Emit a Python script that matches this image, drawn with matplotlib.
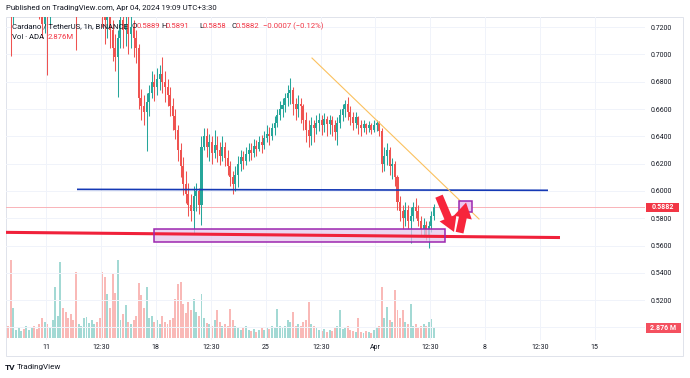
import matplotlib
matplotlib.use('Agg')
import matplotlib.pyplot as plt
import matplotlib.dates as mdates
import matplotlib.transforms as mtrans
from matplotlib.patches import Rectangle, FancyArrowPatch
import numpy as np
import pandas as pd

plt.rcParams['font.family'] = ['Roboto', 'DejaVu Sans']

# ---------------- data (4h candles, ADA/USDT) ----------------
start = '2024-03-08 12:00'
first_open = 0.748
closes = [0.740, 0.728, 0.742, 0.748, 0.752, 0.756, 0.753, 0.758, 0.762, 0.765,
          0.760, 0.750, 0.735, 0.722, 0.735, 0.728, 0.742, 0.752, 0.760, 0.768,
          0.770, 0.765, 0.758, 0.750, 0.745, 0.740, 0.735, 0.748, 0.758, 0.765,
          0.775, 0.782, 0.785, 0.790, 0.782, 0.768, 0.740, 0.725, 0.732, 0.718,
          0.705, 0.698, 0.712, 0.725, 0.718, 0.722, 0.715, 0.720, 0.712, 0.705,
          0.668, 0.662, 0.658, 0.665, 0.672, 0.680, 0.676, 0.682, 0.686, 0.680,
          0.676, 0.670, 0.662, 0.655, 0.645, 0.630, 0.618, 0.605, 0.598, 0.590,
          0.585, 0.596, 0.600, 0.590, 0.632, 0.640, 0.632, 0.636, 0.628, 0.634,
          0.630, 0.626, 0.632, 0.624, 0.618, 0.610, 0.605, 0.612, 0.620, 0.625,
          0.622, 0.627, 0.630, 0.628, 0.633, 0.631, 0.636, 0.634, 0.639, 0.642,
          0.640, 0.646, 0.650, 0.656, 0.660, 0.663, 0.668, 0.672, 0.674, 0.664,
          0.660, 0.664, 0.662, 0.652, 0.645, 0.640, 0.648, 0.646, 0.650, 0.652,
          0.648, 0.653, 0.649, 0.652, 0.648, 0.643, 0.650, 0.656, 0.660, 0.664,
          0.658, 0.654, 0.650, 0.654, 0.648, 0.646, 0.649, 0.646, 0.648, 0.645,
          0.648, 0.650, 0.644, 0.620, 0.626, 0.630, 0.618, 0.620, 0.610, 0.592,
          0.585, 0.580, 0.586, 0.578, 0.582, 0.588, 0.585, 0.578, 0.572, 0.575,
          0.568, 0.574, 0.582, 0.5882]
highs = [0.752, 0.744, 0.748, 0.753, 0.758, 0.762, 0.760, 0.764, 0.768, 0.772,
         0.768, 0.762, 0.752, 0.738, 0.742, 0.740, 0.748, 0.758, 0.768, 0.775,
         0.778, 0.774, 0.768, 0.760, 0.755, 0.750, 0.745, 0.752, 0.762, 0.772,
         0.780, 0.790, 0.795, 0.800, 0.795, 0.786, 0.770, 0.745, 0.745, 0.735,
         0.725, 0.715, 0.718, 0.735, 0.735, 0.735, 0.730, 0.728, 0.725, 0.718,
         0.708, 0.675, 0.670, 0.672, 0.678, 0.688, 0.686, 0.690, 0.692, 0.698,
         0.688, 0.682, 0.676, 0.668, 0.660, 0.648, 0.635, 0.625, 0.615, 0.606,
         0.598, 0.604, 0.606, 0.602, 0.640, 0.646, 0.646, 0.642, 0.640, 0.645,
         0.640, 0.636, 0.640, 0.636, 0.630, 0.622, 0.615, 0.618, 0.626, 0.630,
         0.629, 0.632, 0.635, 0.635, 0.638, 0.637, 0.640, 0.641, 0.644, 0.648,
         0.647, 0.650, 0.655, 0.660, 0.666, 0.668, 0.672, 0.678, 0.683, 0.676,
         0.668, 0.670, 0.668, 0.664, 0.658, 0.652, 0.654, 0.652, 0.656, 0.657,
         0.656, 0.657, 0.655, 0.656, 0.655, 0.652, 0.654, 0.660, 0.664, 0.667,
         0.669, 0.662, 0.658, 0.658, 0.655, 0.652, 0.652, 0.650, 0.651, 0.650,
         0.652, 0.652, 0.651, 0.646, 0.632, 0.635, 0.632, 0.624, 0.622, 0.612,
         0.596, 0.590, 0.592, 0.590, 0.588, 0.592, 0.595, 0.590, 0.582, 0.580,
         0.578, 0.578, 0.585, 0.5905]
lows = [0.735, 0.699, 0.722, 0.738, 0.745, 0.748, 0.747, 0.750, 0.754, 0.758,
        0.752, 0.742, 0.726, 0.712, 0.716, 0.685, 0.722, 0.738, 0.748, 0.756,
        0.762, 0.758, 0.750, 0.742, 0.735, 0.730, 0.703, 0.732, 0.745, 0.755,
        0.762, 0.770, 0.776, 0.780, 0.772, 0.755, 0.720, 0.708, 0.712, 0.705,
        0.695, 0.688, 0.669, 0.705, 0.705, 0.706, 0.700, 0.705, 0.698, 0.694,
        0.660, 0.652, 0.648, 0.629, 0.655, 0.668, 0.666, 0.670, 0.674, 0.672,
        0.665, 0.662, 0.655, 0.645, 0.638, 0.622, 0.610, 0.597, 0.591, 0.582,
        0.578, 0.569, 0.585, 0.583, 0.575, 0.630, 0.625, 0.622, 0.620, 0.624,
        0.621, 0.619, 0.622, 0.618, 0.612, 0.604, 0.598, 0.600, 0.603, 0.615,
        0.616, 0.619, 0.622, 0.623, 0.625, 0.626, 0.629, 0.628, 0.631, 0.636,
        0.634, 0.637, 0.641, 0.647, 0.652, 0.654, 0.658, 0.662, 0.664, 0.656,
        0.652, 0.654, 0.650, 0.645, 0.636, 0.632, 0.634, 0.636, 0.642, 0.644,
        0.641, 0.643, 0.640, 0.642, 0.640, 0.637, 0.634, 0.646, 0.651, 0.654,
        0.652, 0.648, 0.645, 0.646, 0.642, 0.640, 0.643, 0.642, 0.643, 0.642,
        0.643, 0.644, 0.640, 0.614, 0.615, 0.619, 0.612, 0.609, 0.604, 0.586,
        0.578, 0.572, 0.574, 0.572, 0.562, 0.578, 0.580, 0.574, 0.568, 0.566,
        0.564, 0.558, 0.570, 0.579]
volume_m = [3.5, 22.4, 8.6, 2.3, 2.9, 2.0, 2.6, 3.5, 2.3, 2.9,
            3.5, 2.6, 4.0, 5.8, 4.6, 4.0, 2.9, 5.2, 14.7, 6.3,
            21.9, 8.6, 7.5, 5.8, 6.9, 5.2, 19.0, 4.0, 3.5, 5.8,
            6.0, 4.3, 5.2, 4.0, 4.6, 5.8, 19.0, 17.5, 12.7, 8.6,
            18.4, 12.9, 22.4, 5.2, 6.9, 9.5, 4.6, 4.0, 5.2, 6.3,
            15.8, 12.4, 8.6, 14.7, 5.8, 6.3, 4.6, 5.2, 4.0, 6.3,
            4.6, 4.0, 5.2, 5.8, 11.2, 15.5, 16.1, 9.8, 7.2, 10.4,
            8.1, 11.2, 7.5, 6.3, 12.7, 5.8, 4.3, 4.0, 3.5, 5.2,
            8.1, 4.6, 3.5, 4.0, 3.5, 8.3, 5.2, 3.5, 2.9, 2.3,
            2.9, 3.5, 2.3, 2.0, 2.6, 1.7, 2.3, 2.9, 2.3, 2.9,
            2.6, 3.5, 2.9, 8.3, 3.5, 2.9, 3.5, 5.2, 4.6, 7.5,
            3.5, 4.0, 3.5, 4.6, 5.2, 10.4, 4.0, 3.5, 2.9, 2.3,
            2.0, 2.6, 1.7, 2.3, 2.0, 2.9, 3.5, 8.1, 2.6, 2.9,
            3.5, 2.3, 2.0, 1.7, 5.8, 1.7, 1.4, 2.0, 1.7, 1.4,
            2.3, 2.9, 3.5, 14.7, 5.8, 8.9, 5.2, 4.6, 13.8, 8.1,
            5.8, 8.1, 4.6, 4.0, 9.8, 3.5, 4.0, 2.9, 3.5, 4.0,
            3.5, 4.6, 5.5, 2.876]

price_ticks = [0.50, 0.52, 0.54, 0.56, 0.58, 0.60, 0.62, 0.64, 0.66, 0.68, 0.70, 0.72]
x_tick_times = ['2024-03-11 00:00', '2024-03-14 12:30', '2024-03-18 00:00', '2024-03-21 12:30',
                '2024-03-25 00:00', '2024-03-28 12:30', '2024-04-01 00:00', '2024-04-04 12:30',
                '2024-04-08 00:00', '2024-04-11 12:30', '2024-04-15 00:00']
x_tick_labels = ['11', '12:30', '18', '12:30', '25', '12:30', 'Apr', '12:30', '8', '12:30', '15']
last_price = 0.5882
last_volume = 2.876

# drawings on the chart (time, price)
blue_line = [('2024-03-12 23:27', 0.6012), ('2024-04-12 00:21', 0.6005)]
red_line = [('2024-03-08 10:40', 0.5697), ('2024-04-12 18:43', 0.5659)]
zone_rect = [('2024-03-17 21:19', 0.5626), ('2024-04-05 10:43', 0.5722)]
trend_line = [('2024-03-27 23:08', 0.6974), ('2024-04-07 14:45', 0.5795)]
target_box = [('2024-04-06 08:10', 0.5846), ('2024-04-07 04:04', 0.5927)]
arrow_down = [('2024-04-05 01:32', 0.5962), ('2024-04-06 00:29', 0.5700)]
arrow_up = [('2024-04-06 09:00', 0.5695), ('2024-04-06 18:55', 0.5915)]

# ---------------- figure ----------------
W, H = 690, 378
fig = plt.figure(figsize=(W / 100, H / 100), dpi=100)
fig.patch.set_facecolor('white')

L_px, R_px, T_px, B_px = 6, 645, 17, 340
rect = [L_px / W, 1 - B_px / H, (R_px - L_px) / W, (B_px - T_px) / H]

axv = fig.add_axes(rect, zorder=1)
ax = fig.add_axes(rect, zorder=2)
ax.patch.set_alpha(0)

t = pd.date_range(start, periods=len(closes), freq='4h') + pd.Timedelta(hours=2)
x = mdates.date2num(t.to_pydatetime())
o = np.array([first_open] + closes[:-1])
c = np.array(closes)
hi = np.maximum(np.array(highs), np.maximum(o, c))
lo = np.minimum(np.array(lows), np.minimum(o, c))
up = c >= o
UP, DN = '#26a69a', '#ef5350'
cols = np.where(up, UP, DN)

d = lambda s: mdates.date2num(pd.Timestamp(s).to_pydatetime())

x0 = d('2024-03-11 00:00') - 40 / 15.68
x1 = d('2024-03-11 00:00') + (R_px - 46) / 15.68
for a in (ax, axv):
    a.set_xlim(x0, x1)

# volume
vcols = np.where(up, '#a3d9d4', '#f9b9b7')
axv.bar(x, volume_m, width=0.75 / 6, color=vcols, linewidth=0)
axv.set_ylim(-0.575, 92.3)
axv.axis('off')

# grid
ax.set_ylim(0.49084, 0.72747)
ax.set_yticks(price_ticks)
ax.set_yticklabels(['' if v == 0.50 else f'{v:.4f}' for v in price_ticks])
ax.set_xticks([d(s) for s in x_tick_times])
ax.set_xticklabels(x_tick_labels)
ax.grid(True, color='#f0f3fa', linewidth=0.7, zorder=0)
ax.set_axisbelow(True)

# candles
ax.vlines(x, lo, hi, colors=cols, linewidth=0.75, zorder=3)
ax.bar(x, np.maximum(np.abs(c - o), 0.0008), bottom=np.minimum(o, c), width=0.78 / 6,
       color=cols, linewidth=0, zorder=3)

# last price line
ax.axhline(last_price, color='#f9b3b8', linewidth=0.7, zorder=2)

# drawings
(rx0, ry0), (rx1, ry1) = zone_rect
ax.add_patch(Rectangle((d(rx0), ry0), d(rx1) - d(rx0), ry1 - ry0, facecolor='#e6c8ec',
                       alpha=0.75, edgecolor='none', zorder=4))
ax.plot([d(p[0]) for p in red_line], [p[1] for p in red_line], color='#f0213a',
        linewidth=2.2, zorder=5, solid_capstyle='butt')
ax.add_patch(Rectangle((d(rx0), ry0), d(rx1) - d(rx0), ry1 - ry0, facecolor='none',
                       edgecolor='#9c27b0', linewidth=1.1, zorder=6))
ax.plot([d(p[0]) for p in blue_line], [p[1] for p in blue_line], color='#1539b5',
        linewidth=1.2, zorder=5, solid_capstyle='butt')
ax.plot([d(p[0]) for p in trend_line], [p[1] for p in trend_line], color='#fbc15e',
        linewidth=0.8, zorder=5)
(bx0, by0), (bx1, by1) = target_box
ax.add_patch(Rectangle((d(bx0), by0), d(bx1) - d(bx0), by1 - by0, facecolor='#edc6ef',
                       edgecolor='#9c27b0', linewidth=1.1, zorder=6))
for arr in (arrow_down, arrow_up):
    (ax0_, ay0_), (ax1_, ay1_) = arr
    ax.add_patch(FancyArrowPatch((d(ax0_), ay0_), (d(ax1_), ay1_),
                                 arrowstyle='simple,head_width=6,head_length=5,tail_width=2.6',
                                 color='#f7253c', linewidth=0, zorder=7,
                                 shrinkA=0, shrinkB=0, mutation_scale=2.2))

# axes styling
for s in ax.spines.values():
    s.set_visible(False)
ax.yaxis.tick_right()
ax.tick_params(axis='y', length=0, pad=4.3, labelsize=5.0, labelcolor='#131722')
ax.tick_params(axis='x', length=0, pad=3.0, labelsize=5.0, labelcolor='#131722')
for lab in ax.get_yticklabels():
    lab.set_horizontalalignment('left')

# price & volume labels on scale
bt = mtrans.blended_transform_factory(ax.transAxes, ax.transData)
bw = 33 / (R_px - L_px)
ax.add_patch(Rectangle((1.0015, last_price - 0.0033), bw, 0.0066, transform=bt,
                       facecolor='#f23645', edgecolor='none', clip_on=False, zorder=10))
ax.text(1.0015 + bw / 2, last_price, f'{last_price:.4f}', transform=bt, ha='center',
        va='center', fontsize=5.0, color='white', fontweight='bold', zorder=11, clip_on=False)
bv = mtrans.blended_transform_factory(axv.transAxes, axv.transData)
vh = 10 * 92.875 / (B_px - T_px)
axv.add_patch(Rectangle((1.0015, last_volume - vh / 2), 35 / (R_px - L_px), vh, transform=bv,
                        facecolor='#f4505f', edgecolor='none', clip_on=False, zorder=10))
fig.text((646 + 680) / 2 / W, 1 - 328 / H, f'{last_volume:.3f} M', ha='center', va='center',
         fontsize=5.0, color='white', fontweight='bold', zorder=20)

# outer frame
fig.add_artist(Rectangle((L_px / W, 1 - 356 / H), (683 - L_px) / W, (356 - T_px) / H,
                         transform=fig.transFigure, facecolor='none', edgecolor='#e0e3eb',
                         linewidth=0.7))

def ftext(px, py, s, **kw):
    fig.text(px / W, 1 - py / H, s, va='center', **kw)

FS = 5.6
# header
ftext(6, 8, 'Published on TradingView.com, Apr 04, 2024 19:09 UTC+3:30', fontsize=FS,
      color='#131722')
DK, RD = '#131722', '#f23645'
ftext(12, 26, 'Cardano / TetherUS, 1h, BINANCE', fontsize=FS, color=DK, zorder=20)
for px_o, lab, val in [(132, 'O', '0.5889'), (161, 'H', '0.5891'), (199, 'L', '0.5858'),
                       (231, 'C', '0.5882')]:
    ftext(px_o, 26, lab, fontsize=FS, color=DK, zorder=20)
    ftext(px_o + (5.0 if lab != 'L' else 4.0), 26, val, fontsize=FS, color=RD, zorder=20)
ftext(263, 26, '\u22120.0007 (\u22120.12%)', fontsize=FS, color=RD, zorder=20)
ftext(12, 37, 'Vol \u00b7 ADA', fontsize=FS, color=DK, zorder=20)
ftext(48, 37, '2.876M', fontsize=FS, color=RD, zorder=20)

# footer logo
ftext(5, 367, 'TV', fontsize=6, color='#131722', fontweight='bold')
ftext(17, 367, 'TradingView', fontsize=5.8, color='#131722')

fig.savefig('out.png', dpi=100)
